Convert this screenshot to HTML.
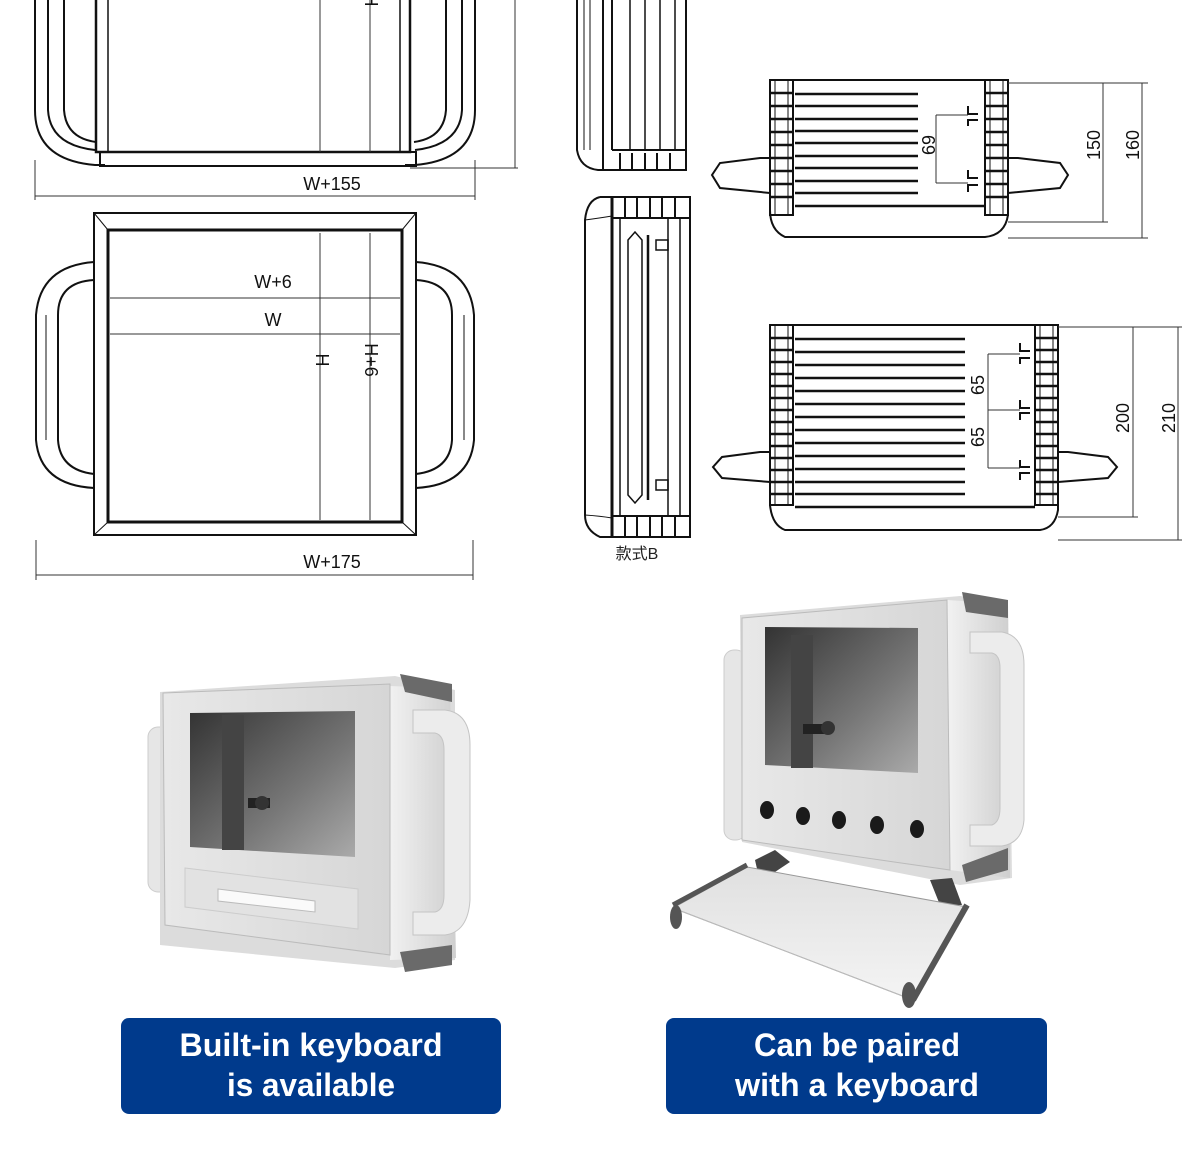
<!DOCTYPE html>
<html><head><meta charset="utf-8"><style>
html,body{margin:0;padding:0;background:#fff;}
svg{display:block;}
</style></head><body>
<svg width="1200" height="1167" viewBox="0 0 1200 1167" xmlns="http://www.w3.org/2000/svg">
<defs>
<linearGradient id="win" x1="0" y1="0" x2="1" y2="1"><stop offset="0" stop-color="#333"/><stop offset="0.6" stop-color="#777"/><stop offset="1" stop-color="#aaa"/></linearGradient>
<linearGradient id="panel" x1="0" y1="0" x2="1" y2="0"><stop offset="0" stop-color="#e8e8e8"/><stop offset="1" stop-color="#d6d6d6"/></linearGradient>
<linearGradient id="side" x1="0" y1="0" x2="1" y2="0"><stop offset="0" stop-color="#f2f2f2"/><stop offset="1" stop-color="#cfcfcf"/></linearGradient>
<linearGradient id="tray" x1="0" y1="0" x2="0" y2="1"><stop offset="0" stop-color="#e0e0e0"/><stop offset="1" stop-color="#f4f4f4"/></linearGradient>
</defs>

<g fill="none" stroke="#111" stroke-width="2">
<rect x="96" y="-5" width="314" height="157" stroke-width="2.5"/>
<rect x="108" y="-5" width="292" height="157" stroke-width="1.5"/>
<rect x="100" y="152" width="316" height="14"/>
<path d="M35 -5 V110 Q35 160 95 165 H105" />
<path d="M48 -5 V110 Q50 145 95 150"/>
<path d="M64 -5 V110 Q66 138 96 142"/>
<path d="M475 -5 V110 Q475 160 415 165 H405"/>
<path d="M462 -5 V110 Q460 145 415 150"/>
<path d="M446 -5 V110 Q444 138 414 142"/>
<rect x="94" y="213" width="322" height="322"/>
<rect x="108" y="230" width="294" height="292" stroke-width="3"/>
<line x1="94" y1="213" x2="108" y2="230" stroke-width="1"/><line x1="416" y1="213" x2="402" y2="230" stroke-width="1"/>
<line x1="94" y1="535" x2="108" y2="522" stroke-width="1"/><line x1="416" y1="535" x2="402" y2="522" stroke-width="1"/>
<path d="M94 262 Q40 266 36 315 V440 Q40 485 94 488"/>
<path d="M94 280 Q58 282 58 315 V440 Q60 470 94 474"/>
<path d="M46 315 V440" stroke-width="1"/>
<path d="M416 262 Q470 266 474 315 V440 Q470 485 416 488"/>
<path d="M416 280 Q452 282 452 315 V440 Q450 470 416 474"/>
<path d="M464 315 V440" stroke-width="1"/>
</g>
<g stroke="#333" stroke-width="1" fill="none">
<line x1="35" y1="196" x2="475" y2="196"/><line x1="35" y1="160" x2="35" y2="200"/><line x1="475" y1="160" x2="475" y2="200"/>
<line x1="320" y1="0" x2="320" y2="152"/><line x1="370" y1="0" x2="370" y2="152"/>
<line x1="515" y1="0" x2="515" y2="168"/><line x1="410" y1="168" x2="518" y2="168"/>
<line x1="110" y1="298" x2="400" y2="298"/><line x1="110" y1="334" x2="400" y2="334"/>
<line x1="320" y1="233" x2="320" y2="520"/><line x1="370" y1="233" x2="370" y2="520"/>
<line x1="36" y1="575" x2="473" y2="575"/><line x1="36" y1="540" x2="36" y2="580"/><line x1="473" y1="540" x2="473" y2="580"/>
</g>
<g font-family="Liberation Sans, sans-serif" font-size="18" fill="#111">
<text x="332" y="190" text-anchor="middle">W+155</text>
<text x="273" y="288" text-anchor="middle">W+6</text>
<text x="273" y="326" text-anchor="middle">W</text>
<text x="332" y="568" text-anchor="middle">W+175</text>
<text transform="translate(316,360) rotate(90)" text-anchor="middle">H</text>
<text transform="translate(365,360) rotate(90)" text-anchor="middle">H+6</text>
<text transform="translate(365,0) rotate(90)" text-anchor="middle">H</text>
</g>

<g fill="none" stroke="#111" stroke-width="2">
<path d="M577 -5 V150 Q580 168 598 170 H686 V-5"/>
<line x1="584" y1="-5" x2="584" y2="150" stroke-width="1"/>
<line x1="590" y1="-5" x2="590" y2="150" stroke-width="1"/>
<line x1="603" y1="-5" x2="603" y2="170"/>
<line x1="612" y1="-5" x2="612" y2="150"/>
<line x1="630" y1="-5" x2="630" y2="150" stroke-width="1.5"/>
<line x1="645" y1="-5" x2="645" y2="150" stroke-width="1.5"/>
<line x1="660" y1="-5" x2="660" y2="150" stroke-width="1.5"/>
<line x1="675" y1="-5" x2="675" y2="150" stroke-width="1.5"/>
<line x1="612" y1="150" x2="686" y2="150"/>
<path d="M620 153 V170 M632 153 V170 M645 153 V170 M657 153 V170 M670 153 V170"/>
<path d="M600 197 H690 V537 H600 Q585 530 585 515 V220 Q587 200 600 197"/>
<line x1="612" y1="197" x2="612" y2="537" stroke-width="3"/>
<line x1="612" y1="218" x2="690" y2="218"/><line x1="612" y1="516" x2="690" y2="516"/>
<path d="M585 220 Q600 218 612 216 M585 515 Q600 516 612 518" stroke-width="1"/>
<path d="M625 197 V218 M637 197 V218 M650 197 V218 M662 197 V218 M675 197 V218"/>
<path d="M625 516 V537 M637 516 V537 M650 516 V537 M662 516 V537 M675 516 V537"/>
<line x1="620" y1="218" x2="620" y2="516" stroke-width="1.5"/>
<line x1="668" y1="218" x2="668" y2="516" stroke-width="1.5"/>
<line x1="680" y1="218" x2="680" y2="516" stroke-width="1.5"/>
<path d="M628 240 L635 232 L642 240 V495 L635 503 L628 495 Z" stroke-width="1.5"/>
<line x1="648" y1="235" x2="648" y2="500" stroke-width="2.5"/>
<rect x="656" y="240" width="12" height="10" stroke-width="1.5"/>
<rect x="656" y="480" width="12" height="10" stroke-width="1.5"/>
</g>
<text x="637" y="559" font-family="Liberation Sans, 'Noto Sans CJK SC', sans-serif" font-size="16" fill="#222" text-anchor="middle">款式B</text>

<g fill="none" stroke="#111" stroke-width="2">
<path d="M770 80 H1008 V215 Q1005 235 985 237 H785 Q770 230 770 210 Z"/>
<rect x="770" y="80" width="23" height="135"/>
<rect x="985" y="80" width="23" height="135"/>
<path d="M770 93 H793 M770 106 H793 M770 119 H793 M770 132 H793 M770 145 H793 M770 158 H793 M770 171 H793 M770 184 H793 M770 197 H793" stroke-width="2.5"/>
<path d="M985 93 H1008 M985 106 H1008 M985 119 H1008 M985 132 H1008 M985 145 H1008 M985 158 H1008 M985 171 H1008 M985 184 H1008 M985 197 H1008" stroke-width="2.5"/>
<line x1="775" y1="80" x2="775" y2="215" stroke-width="1"/><line x1="788" y1="80" x2="788" y2="215" stroke-width="1"/>
<line x1="990" y1="80" x2="990" y2="215" stroke-width="1"/><line x1="1003" y1="80" x2="1003" y2="215" stroke-width="1"/>
<path d="M795 94 H918 M795 106 H918 M795 119 H918 M795 131 H918 M795 143 H918 M795 156 H918 M795 168 H918 M795 181 H918 M795 193 H918" stroke-width="2.5"/>
<line x1="795" y1="206" x2="985" y2="206" stroke-width="2.5"/>
<path d="M770 158 H760 L720 163 L712 175 L720 188 L770 193"/>
<path d="M1008 158 H1018 L1060 163 L1068 175 L1060 188 L1008 193"/>
<path d="M968 106 V114 H978 M968 126 V120 H978 M968 170 V178 H978 M968 192 V185 H978" stroke-width="2"/>
</g>
<g stroke="#333" stroke-width="1" fill="none">
<path d="M1008 83 H1148 M1008 222 H1108 M1008 238 H1148 M1103 83 V222 M1142 83 V238 M936 115 H968 M936 183 H968 M936 115 V183"/>
</g>
<g fill="none" stroke="#111" stroke-width="2">
<path d="M770 325 H1058 V510 Q1055 528 1040 530 H785 Q772 525 770 505 Z"/>
<rect x="770" y="325" width="23" height="180"/>
<rect x="1035" y="325" width="23" height="180"/>
<path d="M770 338 H793 M770 350 H793 M770 362 H793 M770 374 H793 M770 386 H793 M770 398 H793 M770 410 H793 M770 422 H793 M770 434 H793 M770 446 H793 M770 458 H793 M770 470 H793 M770 482 H793 M770 494 H793" stroke-width="2.5"/>
<path d="M1035 338 H1058 M1035 350 H1058 M1035 362 H1058 M1035 374 H1058 M1035 386 H1058 M1035 398 H1058 M1035 410 H1058 M1035 422 H1058 M1035 434 H1058 M1035 446 H1058 M1035 458 H1058 M1035 470 H1058 M1035 482 H1058 M1035 494 H1058" stroke-width="2.5"/>
<line x1="775" y1="325" x2="775" y2="505" stroke-width="1"/><line x1="788" y1="325" x2="788" y2="505" stroke-width="1"/>
<line x1="1040" y1="325" x2="1040" y2="505" stroke-width="1"/><line x1="1053" y1="325" x2="1053" y2="505" stroke-width="1"/>
<path d="M795 339 H965 M795 352 H965 M795 365 H965 M795 378 H965 M795 391 H965 M795 404 H965 M795 417 H965 M795 430 H965 M795 443 H965 M795 456 H965 M795 469 H965 M795 482 H965 M795 494 H965" stroke-width="2.5"/>
<line x1="795" y1="507" x2="1035" y2="507" stroke-width="2.5"/>
<path d="M770 452 H760 L722 457 L713 467 L722 478 L770 482"/>
<path d="M1058 452 H1068 L1108 457 L1117 467 L1108 478 L1058 482"/>
<path d="M1020 343 V351 H1030 M1020 364 V358 H1030 M1020 400 V408 H1030 M1020 420 V413 H1030 M1020 460 V467 H1030 M1020 480 V473 H1030" stroke-width="2"/>
</g>
<g stroke="#333" stroke-width="1" fill="none">
<path d="M1058 327 H1182 M1058 517 H1138 M1058 540 H1182 M1133 327 V517 M1178 327 V540 M988 354 H1020 M988 410 H1020 M988 468 H1020 M988 354 V468"/>
</g>
<g font-family="Liberation Sans, sans-serif" font-size="18" fill="#111">
<text transform="translate(935,145) rotate(-90)" text-anchor="middle">69</text>
<text transform="translate(1100,145) rotate(-90)" text-anchor="middle">150</text>
<text transform="translate(1139,145) rotate(-90)" text-anchor="middle">160</text>
<text transform="translate(984,385) rotate(-90)" text-anchor="middle">65</text>
<text transform="translate(984,437) rotate(-90)" text-anchor="middle">65</text>
<text transform="translate(1129,418) rotate(-90)" text-anchor="middle">200</text>
<text transform="translate(1175,418) rotate(-90)" text-anchor="middle">210</text>
</g>

<g>
<rect x="148" y="727" width="22" height="165" rx="10" fill="#e6e6e6" stroke="#ccc"/>
<polygon points="160,692 395,676 455,690 455,960 395,968 160,945" fill="#dcdcdc"/>
<polygon points="388,686 450,688 456,958 390,960" fill="url(#side)"/>
<polygon points="400,674 452,684 452,702 405,692" fill="#6a6a6a"/>
<polygon points="400,952 452,945 452,965 405,972" fill="#6a6a6a"/>
<polygon points="163,693 390,684 390,955 165,925" fill="url(#panel)" stroke="#bbb"/>
<polygon points="190,713 355,711 355,857 190,847" fill="url(#win)"/>
<rect x="222" y="715" width="22" height="135" fill="#444"/>
<rect x="248" y="798" width="22" height="10" fill="#222"/>
<circle cx="262" cy="803" r="7" fill="#333"/>
<polygon points="185,868 358,889 358,929 185,907" fill="#e2e2e2" stroke="#ccc"/>
<polygon points="218,889 315,901 315,912 218,901" fill="#fafafa" stroke="#bbb"/>
<path d="M413 710 H445 Q470 713 470 745 V900 Q468 932 445 935 H413 V912 H435 Q444 910 444 895 V750 Q444 735 435 733 H413 Z" fill="#ececec" stroke="#c4c4c4"/>
</g>

<g>
<rect x="724" y="650" width="22" height="190" rx="10" fill="#e6e6e6" stroke="#ccc"/>
<polygon points="740,615 960,596 1008,604 1012,878 960,885 742,842" fill="#dcdcdc"/>
<polygon points="947,600 1008,604 1010,878 950,870" fill="url(#side)"/>
<polygon points="962,592 1008,600 1008,618 966,612" fill="#6a6a6a"/>
<polygon points="962,865 1008,848 1008,870 966,882" fill="#6a6a6a"/>
<polygon points="742,618 947,600 950,870 742,840" fill="url(#panel)" stroke="#bbb"/>
<polygon points="765,627 918,628 918,773 765,765" fill="url(#win)"/>
<rect x="791" y="635" width="22" height="133" fill="#444"/>
<rect x="803" y="724" width="22" height="10" fill="#222"/>
<circle cx="828" cy="728" r="7" fill="#333"/>
<g fill="#1a1a1a"><ellipse cx="767" cy="810" rx="7" ry="9"/><ellipse cx="803" cy="816" rx="7" ry="9"/><ellipse cx="839" cy="820" rx="7" ry="9"/><ellipse cx="877" cy="825" rx="7" ry="9"/><ellipse cx="917" cy="829" rx="7" ry="9"/></g>
<path d="M970 632 H1002 Q1024 636 1024 665 V820 Q1022 843 1002 846 H970 V825 H992 Q1000 822 1000 808 V668 Q1000 655 992 653 H970 Z" fill="#ececec" stroke="#c4c4c4"/>
<path d="M755 860 L775 850 L790 862 L760 882 Z" fill="#444"/>
<path d="M930 880 L952 878 L962 905 L940 905 Z" fill="#444"/>
<polygon points="673,908 747,867 967,907 913,1000" fill="url(#tray)" stroke="#999"/>
<path d="M673 905 L747 865" stroke="#555" stroke-width="5"/>
<path d="M967 905 L913 1000" stroke="#555" stroke-width="6"/>
<path d="M673 908 L913 1000" stroke="#bbb" stroke-width="1"/>
<ellipse cx="676" cy="917" rx="6" ry="12" fill="#555"/>
<ellipse cx="909" cy="995" rx="7" ry="13" fill="#555"/>
</g>

<rect x="121" y="1018" width="380" height="96" rx="8" fill="#003a8c"/>
<rect x="666" y="1018" width="381" height="96" rx="8" fill="#003a8c"/>
<g font-family="Liberation Sans, sans-serif" font-weight="bold" font-size="32" fill="#fff" text-anchor="middle">
<text x="311" y="1056" textLength="263" lengthAdjust="spacingAndGlyphs">Built-in keyboard</text>
<text x="311" y="1096" textLength="168" lengthAdjust="spacingAndGlyphs">is available</text>
<text x="857" y="1056" textLength="206" lengthAdjust="spacingAndGlyphs">Can be paired</text>
<text x="857" y="1096" textLength="244" lengthAdjust="spacingAndGlyphs">with a keyboard</text>
</g>
</svg>
</body></html>
